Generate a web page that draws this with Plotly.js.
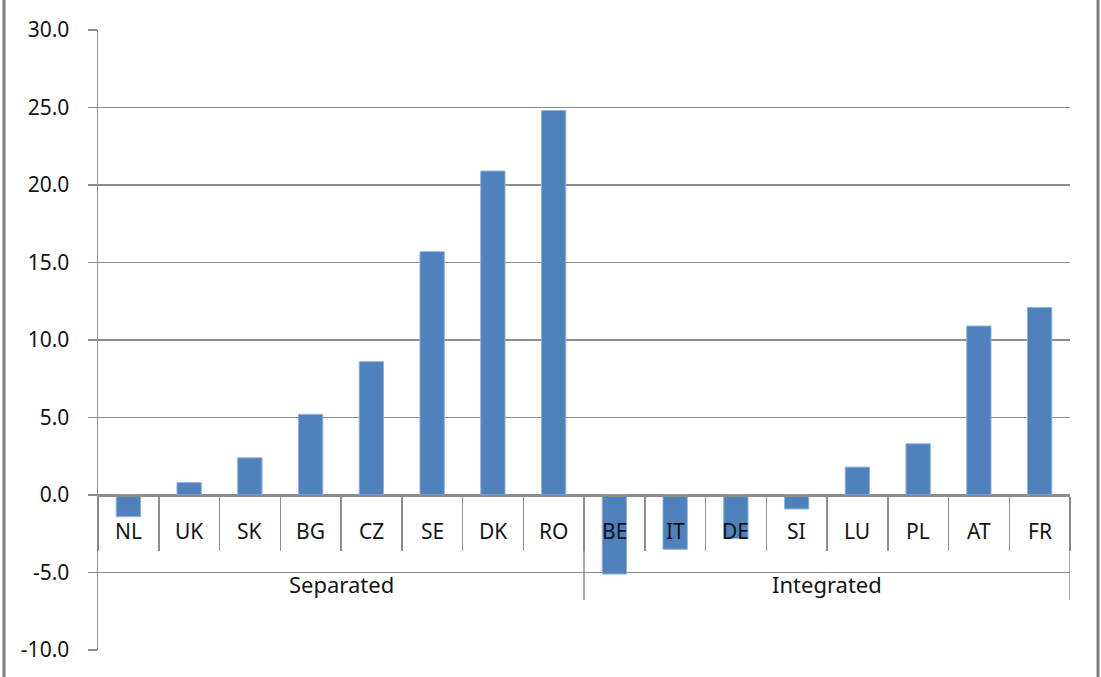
<!DOCTYPE html>
<html>
<head>
<meta charset="utf-8">
<script src="https://cdn.plot.ly/plotly-3.0.1.min.js"></script>
<style>html,body{margin:0;padding:0;background:#fff;}#chart{width:1101px;height:677px;}</style>
</head>
<body>
<div id="chart"></div>
<script>
const groups = ["Separated","Separated","Separated","Separated","Separated","Separated","Separated","Separated",
                "Integrated","Integrated","Integrated","Integrated","Integrated","Integrated","Integrated","Integrated"];
const countries = ["NL","UK","SK","BG","CZ","SE","DK","RO","BE","IT","DE","SI","LU","PL","AT","FR"];
const values = [-1.4, 0.8, 2.4, 5.2, 8.6, 15.7, 20.9, 24.8, -5.1, -3.5, -2.8, -0.9, 1.8, 3.3, 10.9, 12.1];
const yTicks = [-10, -5, 0, 5, 10, 15, 20, 25, 30];
const yTickLabels = ["-10.0", "-5.0", "0.0", "5.0", "10.0", "15.0", "20.0", "25.0", "30.0"];

const axisGray = '#8c8c8c';
const textColor = '#141414';
const fontFam = 'Noto Sans, Open Sans, sans-serif';

const trace = {
  type: 'bar',
  x: countries,
  y: values,
  marker: {color: '#4F81BD', line: {color: '#8db0dd', width: 1}},
  width: 0.4,
  hoverinfo: 'x+y'
};

// group spans (derived from the groups array)
const groupSpans = [];
groups.forEach((g, i) => {
  const last = groupSpans[groupSpans.length - 1];
  if (last && last.name === g) last.end = i; else groupSpans.push({name: g, start: i, end: i});
});

const annotations = [];
countries.forEach((c, i) => {
  annotations.push({x: i, y: 0, xref: 'x', yref: 'y', text: c, showarrow: false,
    xanchor: 'center', yanchor: 'middle', yshift: -36,
    font: {family: fontFam, size: 21, color: textColor}});
});
groupSpans.forEach(s => {
  annotations.push({x: (s.start + s.end) / 2, y: 0, xref: 'x', yref: 'y', text: s.name, showarrow: false,
    xanchor: 'center', yanchor: 'middle', yshift: -89,
    font: {family: fontFam, size: 22, color: textColor}});
});

const shapes = [
  {type: 'line', xref: 'paper', yref: 'paper', x0: -0.0967, x1: -0.0967, y0: -0.05, y1: 1.06,
   line: {color: '#7f7f7f', width: 3}},
  {type: 'line', xref: 'paper', yref: 'paper', x0: 1.0288, x1: 1.0288, y0: -0.05, y1: 1.06,
   line: {color: '#7f7f7f', width: 3}}
];
groupSpans.forEach(s => {
  shapes.push({type: 'line', xref: 'x', yref: 'paper', x0: s.end + 0.5, x1: s.end + 0.5,
    y0: 0.25, y1: 0.0806, line: {color: axisGray, width: 1.5}});
});

const layout = {
  width: 1101, height: 677,
  margin: {l: 98, r: 31, t: 30, b: 27, pad: 0},
  paper_bgcolor: '#ffffff', plot_bgcolor: '#ffffff',
  showlegend: false,
  font: {family: fontFam, size: 20, color: textColor},
  xaxis: {
    type: 'category',
    range: [-0.5, countries.length - 0.5],
    anchor: 'free', position: 0.25,
    showline: true, linecolor: axisGray, linewidth: 1.5,
    tickson: 'boundaries',
    ticks: 'outside', ticklen: 54, tickcolor: axisGray, tickwidth: 1.5,
    showticklabels: false,
    showgrid: false, zeroline: false
  },
  yaxis: {
    range: [-10, 30],
    tickvals: yTicks,
    ticktext: yTickLabels,
    showline: true, linecolor: axisGray, linewidth: 1.5,
    ticks: 'outside', ticklen: 9, tickcolor: axisGray, tickwidth: 1.5,
    showgrid: true, gridcolor: axisGray, gridwidth: 1.5,
    zeroline: true, zerolinecolor: axisGray, zerolinewidth: 1.5,
    ticklabelstandoff: 14,
    tickfont: {family: fontFam, size: 21, color: textColor}
  },
  annotations: annotations,
  shapes: shapes
};

Plotly.newPlot('chart', [trace], layout, {displayModeBar: false, staticPlot: true});
</script>
</body>
</html>
